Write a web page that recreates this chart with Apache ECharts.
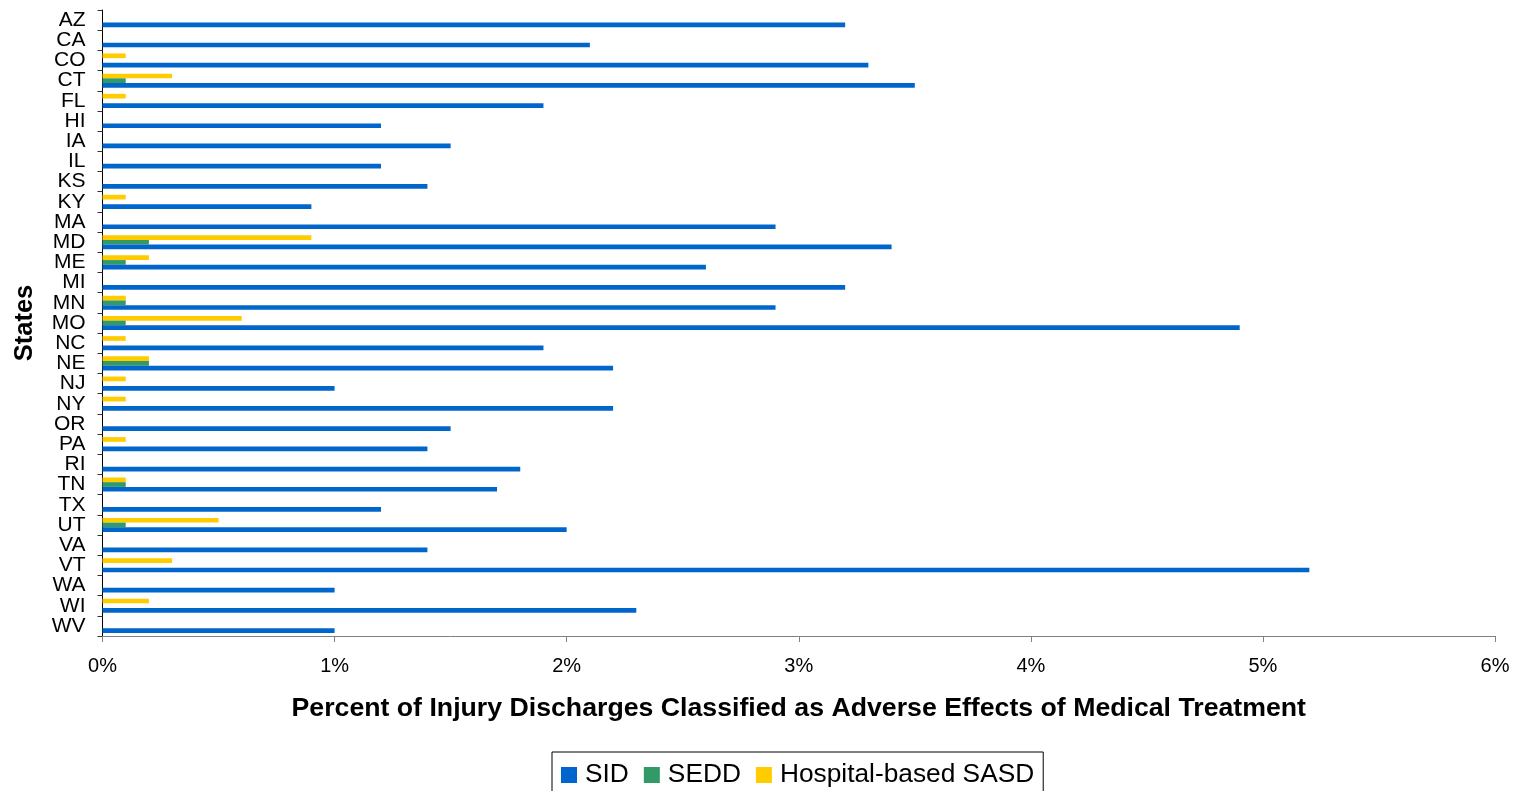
<!DOCTYPE html>
<html>
<head>
<meta charset="utf-8">
<script src="https://cdn.jsdelivr.net/npm/echarts@6/dist/echarts.min.js"></script>
<style>
html,body{margin:0;padding:0;background:#fff;}
#c{width:1518px;height:791px;}
</style>
</head>
<body>
<div id="c"></div>
<script>
const states = ["AZ","CA","CO","CT","FL","HI","IA","IL","KS","KY","MA","MD","ME","MI","MN","MO","NC","NE","NJ","NY","OR","PA","RI","TN","TX","UT","VA","VT","WA","WI","WV"];
const sid  = [3.2,2.1,3.3,3.5,1.9,1.2,1.5,1.2,1.4,0.9,2.9,3.4,2.6,3.2,2.9,4.9,1.9,2.2,1.0,2.2,1.5,1.4,1.8,1.7,1.2,2.0,1.4,5.2,1.0,2.3,1.0];
const sedd = [0,0,0,0.1,0,0,0,0,0,0,0,0.2,0.1,0,0.1,0.1,0,0.2,0,0,0,0,0,0.1,0,0.1,0,0,0,0,0];
const sasd = [0,0,0.1,0.3,0.1,0,0,0,0,0.1,0,0.9,0.2,0,0.1,0.6,0.1,0.2,0.1,0.1,0,0.1,0,0.1,0,0.5,0,0.3,0,0.2,0];
const xTicks = [0,1,2,3,4,5,6];
const seriesNames = ["SID","SEDD","Hospital-based SASD"];

const font = "Liberation Sans, Arial, sans-serif";
const chart = echarts.init(document.getElementById('c'));
const barW = 4.7;
chart.setOption({
  animation:false,
  textStyle:{fontFamily:font},
  grid:{left:102.5,right:23,top:10,bottom:155,containLabel:false},
  legend:{
    data:seriesNames,
    left:552, top:752,
    orient:'horizontal',
    icon:'rect',
    itemWidth:16,itemHeight:16,itemGap:15,
    padding:[10,9,14,9],
    borderColor:'#000',borderWidth:1,
    textStyle:{fontSize:26.3,color:'#000',fontFamily:font,padding:[0,0,0,3]}
  },
  xAxis:{
    type:'value',min:xTicks[0],max:xTicks[xTicks.length-1],interval:1,
    name:'Percent of Injury Discharges Classified as Adverse Effects of Medical Treatment',
    nameLocation:'middle',nameGap:59,
    nameTextStyle:{fontSize:26.7,fontWeight:'bold',color:'#000',fontFamily:font},
    axisLine:{show:true,lineStyle:{color:'#808080',width:1}},
    axisTick:{show:true,length:6,lineStyle:{color:'#808080'}},
    axisLabel:{formatter:v=>v+'%',fontSize:20,color:'#000',margin:20,fontFamily:font},
    splitLine:{show:false}
  },
  yAxis:{
    type:'category',data:states,inverse:true,
    name:'States',nameLocation:'middle',nameGap:65,nameRotate:90,
    nameTextStyle:{fontSize:25.5,fontWeight:'bold',color:'#000',fontFamily:font},
    axisLine:{show:true,lineStyle:{color:'#000',width:1}},
    axisTick:{show:true,length:5,lineStyle:{color:'#333'}},
    axisLabel:{interval:0,fontSize:21,color:'#000',margin:17,fontFamily:font,verticalAlign:'middle',padding:[0,0,3,0]},
    splitLine:{show:false}
  },
  series:[
    {name:seriesNames[2],type:'bar',data:sasd,barWidth:barW,barGap:'0%',itemStyle:{color:'#FFCC00'}},
    {name:seriesNames[1],type:'bar',data:sedd,barWidth:barW,barGap:'0%',itemStyle:{color:'#339966'}},
    {name:seriesNames[0],type:'bar',data:sid,barWidth:barW,barGap:'0%',itemStyle:{color:'#0066CC'}}
  ]
});
</script>
</body>
</html>
